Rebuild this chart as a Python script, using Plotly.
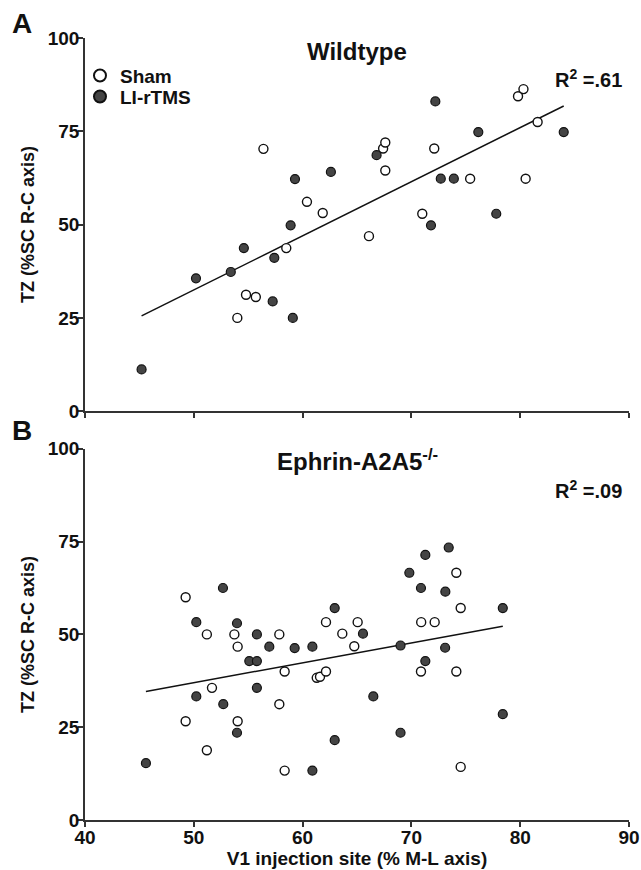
import numpy as np
import plotly.graph_objects as go
from plotly.subplots import make_subplots

# ---------------- data ----------------
wt_sham_x = [54.0, 54.8, 55.7, 56.4, 58.5, 60.4, 61.85, 66.1, 67.4, 67.6, 67.6, 71.0, 72.1, 75.4, 79.8, 80.3, 80.5, 81.6]
wt_sham_y = [25.0, 31.2, 30.6, 70.3, 43.7, 56.1, 53.1, 46.9, 70.4, 72.0, 64.5, 52.9, 70.4, 62.3, 84.4, 86.3, 62.3, 77.5]
wt_tms_x = [45.2, 50.2, 53.4, 54.6, 57.4, 57.25, 58.9, 59.1, 59.3, 62.6, 66.8, 71.8, 72.2, 72.7, 73.9, 76.15, 77.8, 84.0]
wt_tms_y = [11.2, 35.6, 37.3, 43.7, 41.1, 29.4, 49.8, 25.0, 62.2, 64.1, 68.6, 49.8, 83.0, 62.3, 62.3, 74.8, 52.9, 74.8]

ko_sham_x = [49.25, 51.2, 53.73, 57.86, 54.03, 74.13, 74.53, 62.15, 65.06, 70.9, 72.14, 63.65, 64.75, 58.35,
             61.3, 61.6, 51.67, 57.86, 49.25, 54.03, 51.2, 58.35, 62.15, 70.88, 74.13, 74.53]
ko_sham_y = [60.0, 50.0, 50.0, 50.0, 46.7, 66.6, 57.1, 53.3, 53.3, 53.3, 53.3, 50.2, 46.8, 40.0,
             38.3, 38.6, 35.6, 31.2, 26.6, 26.6, 18.8, 13.3, 40.0, 40.0, 40.0, 14.3]
ko_tms_x = [52.68, 50.23, 53.97, 55.8, 56.94, 59.27, 60.9, 73.43, 71.28, 69.81, 70.88, 73.12, 78.4, 62.95, 65.55,
            69.0, 73.1, 55.1, 55.8, 55.8, 50.23, 52.71, 53.97, 45.6, 60.9, 71.28, 66.5, 78.4, 69.0, 62.95]
ko_tms_y = [62.5, 53.3, 53.0, 50.0, 46.7, 46.3, 46.7, 73.4, 71.4, 66.6, 62.5, 61.5, 57.1, 57.1, 50.2,
            47.0, 46.4, 42.8, 42.8, 35.6, 33.3, 31.2, 23.5, 15.3, 13.3, 42.8, 33.3, 28.5, 23.5, 21.5]

x_ticks = [40, 50, 60, 70, 80, 90]
y_ticks = [0, 25, 50, 75, 100]
panel_titles = ["Wildtype", "Ephrin-A2A5<sup>-/-</sup>"]
r2_labels = ["R<sup>2</sup> =.61", "R<sup>2</sup> =.09"]
panel_letters = ["A", "B"]
series_names = ["Sham", "LI-rTMS"]

FONT = "Liberation Sans, Arial, sans-serif"
FILL_DARK = "#444444"

fig = make_subplots(rows=2, cols=1, vertical_spacing=0.048)

def fit_line(xs, ys):
    xs = np.array(xs); ys = np.array(ys)
    m, b = np.polyfit(xs, ys, 1)
    lx = np.array([xs.min(), xs.max()])
    return lx, m * lx + b

panels = [(wt_sham_x, wt_sham_y, wt_tms_x, wt_tms_y), (ko_sham_x, ko_sham_y, ko_tms_x, ko_tms_y)]
for i, (sx, sy, tx, ty) in enumerate(panels):
    row = i + 1
    lx, ly = fit_line(sx + tx, sy + ty)
    fig.add_trace(go.Scatter(x=lx, y=ly, mode="lines", line=dict(color="#111111", width=1.5),
                             showlegend=False, hoverinfo="skip"), row=row, col=1)
    fig.add_trace(go.Scatter(x=sx, y=sy, mode="markers", name="<b>%s</b>" % series_names[0],
                             marker=dict(symbol="circle", size=9, color="white",
                                         line=dict(color="#111111", width=1.4)),
                             showlegend=(i == 0), legend="legend"), row=row, col=1)
    fig.add_trace(go.Scatter(x=tx, y=ty, mode="markers", name="<b>%s</b>" % series_names[1],
                             marker=dict(symbol="circle", size=9, color=FILL_DARK,
                                         line=dict(color="#111111", width=1.2)),
                             showlegend=(i == 0), legend="legend2"), row=row, col=1)

axis_common = dict(showgrid=False, zeroline=False, showline=True, linecolor="#333333", linewidth=1.5,
                   ticks="outside", ticklen=5, tickwidth=1.5, tickcolor="#333333", automargin=False,
                   tickfont=dict(family=FONT, size=19, color="#111111"))

for row in (1, 2):
    fig.update_xaxes(range=[40, 90], tickvals=x_ticks, ticktext=["<b>%d</b>" % v for v in x_ticks],
                     showticklabels=(row == 2), ticklabelstandoff=-6, row=row, col=1, **axis_common)
    fig.update_yaxes(range=[0, 100], tickvals=y_ticks, ticktext=["<b>%d</b>" % v for v in y_ticks],
                     ticklabelstandoff=-5,
                     title=dict(text="<b>TZ (%SC R-C axis)</b>", standoff=8,
                                font=dict(family=FONT, size=18, color="#111111")),
                     row=row, col=1, **axis_common)
fig.update_xaxes(title=dict(text="<b>V1 injection site (% M-L axis)</b>", standoff=4,
                            font=dict(family=FONT, size=19, color="#111111")), row=2, col=1)

# domains to match the reference layout
fig.update_layout(
    yaxis=dict(domain=[0.5228, 1.0]),
    yaxis2=dict(domain=[0.0, 0.4747]),
)

ann = []
title_y = [0.9825, 0.4598]
r2_y = [0.948, 0.4227]
letter_y = [1.018, 0.498]
for i in range(2):
    ann.append(dict(text="<b>%s</b>" % panel_titles[i], x=0.5, y=title_y[i], xref="paper", yref="paper",
                    xanchor="center", yanchor="middle", showarrow=False,
                    font=dict(family=FONT, size=24, color="#111111")))
    ann.append(dict(text="<b>%s</b>" % r2_labels[i], x=0.9908, y=r2_y[i], xref="paper", yref="paper",
                    xanchor="right", yanchor="middle", showarrow=False,
                    font=dict(family=FONT, size=20, color="#111111")))
    ann.append(dict(text="<b>%s</b>" % panel_letters[i], x=-0.1149, y=letter_y[i], xref="paper", yref="paper",
                    xanchor="center", yanchor="middle", showarrow=False,
                    font=dict(family=FONT, size=28, color="#111111")))

leg_common = dict(xanchor="left", yanchor="middle", bgcolor="rgba(0,0,0,0)",
                  font=dict(family=FONT, size=19, color="#111111"), itemsizing="constant")

fig.update_layout(
    width=641, height=870,
    margin=dict(l=85, r=12, t=38, b=49.6),
    paper_bgcolor="white", plot_bgcolor="white",
    font=dict(family=FONT, color="#111111"),
    annotations=ann,
    legend=dict(x=-0.0092, y=0.9518, **leg_common),
    legend2=dict(x=-0.0092, y=0.925, **leg_common),
    showlegend=True,
)

# remove the browser's default page margin so the figure fills the window exactly
fig.write_html("out.html", config={"displayModeBar": False},
               post_script="document.body.style.margin='0';document.body.style.overflow='hidden';")
